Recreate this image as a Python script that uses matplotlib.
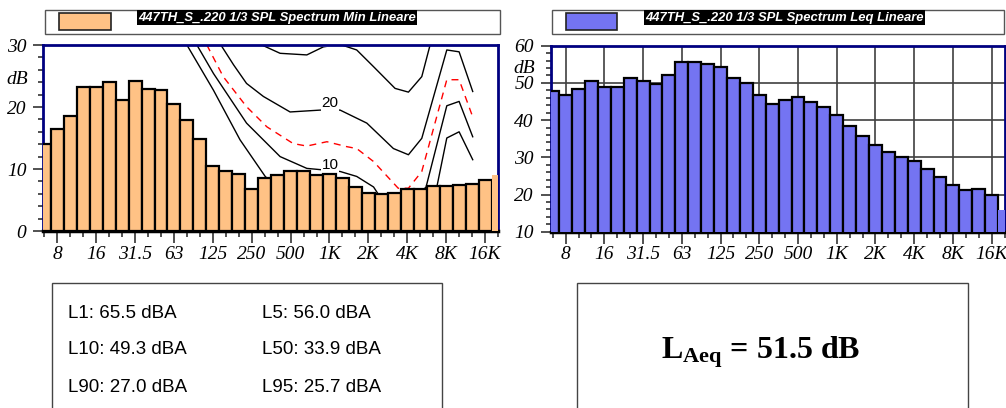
import numpy as np
import matplotlib.pyplot as plt
from matplotlib.patches import Rectangle
from matplotlib.ticker import MultipleLocator

# ========== 数据 ==========
bands = ["6.3", "8", "10", "12.5", "16", "20", "25", "31.5", "40", "50", "63", "80",
         "100", "125", "160", "200", "250", "315", "400", "500", "630", "800", "1K",
         "1.25K", "1.6K", "2K", "2.5K", "3.15K", "4K", "5K", "6.3K", "8K", "10K",
         "12.5K", "16K", "20K"]
tick_labels = ["8", "16", "31.5", "63", "125", "250", "500", "1K", "2K", "4K", "8K", "16K"]

spl_min = [14.1, 16.5, 18.5, 23.2, 23.2, 24.0, 21.1, 24.2, 22.9, 22.8, 20.5, 17.9,
           14.8, 10.5, 9.7, 9.2, 6.8, 8.6, 9.1, 9.7, 9.6, 9.0, 9.2, 8.5,
           7.1, 6.2, 6.0, 6.2, 6.7, 6.7, 7.3, 7.3, 7.5, 7.6, 8.2, 9.0]
spl_leq = [47.9, 46.7, 48.3, 50.4, 49.0, 48.8, 51.3, 50.5, 49.7, 52.0, 55.6, 55.7,
           55.0, 54.4, 51.2, 50.1, 46.7, 44.4, 45.5, 46.1, 45.0, 43.6, 41.5, 38.5,
           35.7, 33.4, 31.3, 30.1, 29.1, 26.8, 24.6, 22.6, 21.3, 21.5, 19.9, 15.8]

# 参考曲线 (位置: 1/3 倍频程序号, 6.3 Hz = 0)
curve5_band = [11.0, 13.05, 15.1, 17.04, 19.0, 23.0, 27.0, 29.6, 30.28, 31.05, 32.0, 33.05]
curve5_db = [30.0, 22.7, 14.7, 8.8, 5.0, 4.0, 3.0, 4.0, 7.1, 15.0, 16.0, 11.5]
curve10_band = [11.77, 13.05, 15.6, 18.19, 20.25, 22.82, 24.1, 25.4, 25.9, 28.5, 29.45, 31.05, 32.0, 33.05]
curve10_db = [30.0, 25.4, 17.4, 12.0, 10.1, 9.6, 8.8, 7.1, 5.5, 5.0, 7.1, 20.2, 20.9, 15.2]
curve15_band = [12.54, 13.8, 15.6, 17.17, 19.2, 20.25, 21.8, 23.34, 24.1, 25.4, 27.3, 28.09, 29.12, 31.05, 32.0, 33.05]
curve15_db = [30.0, 24.9, 20.05, 16.8, 14.1, 13.7, 14.4, 13.6, 13.3, 11.2, 6.9, 6.9, 9.6, 24.4, 24.4, 18.4]
curve20_band = [13.62, 14.6, 15.6, 16.9, 18.96, 21.28, 22.82, 24.88, 26.93, 28.09, 29.12, 31.05, 32.0, 33.05]
curve20_db = [30.0, 26.8, 23.8, 21.7, 19.2, 19.5, 19.5, 17.4, 13.3, 12.3, 14.95, 29.2, 28.9, 22.5]
curve30_band = [16.78, 18.19, 20.25, 21.53, 22.8, 24.1, 25.4, 27.06, 28.09, 29.12, 29.76, 30.2]
curve30_db = [30.0, 28.66, 28.4, 29.7, 30.1, 29.2, 26.5, 23.0, 22.4, 24.9, 30.0, 35.0]
curve_labels = ["10", "20", "30"]
curve_label_db = [10.6, 20.6, 31.0]
curve_label_band = 22.05

stats_left = ["L1: 65.5 dBA", "L10: 49.3 dBA", "L90: 27.0 dBA"]
stats_right = ["L5: 56.0 dBA", "L50: 33.9 dBA", "L95: 25.7 dBA"]
laeq = 51.5

# ========== 画布 ==========
W, H = 1006, 408
fig = plt.figure(figsize=(W / 100, H / 100), dpi=100)
plt.rcParams['mathtext.fontset'] = 'custom'
plt.rcParams['mathtext.bf'] = 'Liberation Serif:bold'
plt.rcParams['mathtext.rm'] = 'Liberation Serif'


def px_box(x0, y0, x1, y1):
    return [x0 / W, 1 - y1 / H, (x1 - x0) / W, (y1 - y0) / H]


ax1 = fig.add_axes(px_box(43.3, 45, 498, 231))
ax2 = fig.add_axes(px_box(550.7, 45.7, 1004.5, 231.7))

x = np.arange(len(bands))
major_pos = [bands.index(t) for t in tick_labels]
serif_it = dict(family='Liberation Serif', style='italic', size=14)


def style_axes(ax, xlim, ylim, db_at):
    ax.set_xlim(*xlim)
    ax.set_ylim(*ylim)
    for s in ['top', 'right', 'left']:
        ax.spines[s].set_color('#000080')
        ax.spines[s].set_linewidth(2)
    ax.spines['bottom'].set_color('black')
    ax.spines['bottom'].set_linewidth(2.5)
    ax.set_xticks(major_pos)
    ax.set_xticklabels(tick_labels)
    ax.set_xticks(x, minor=True)
    ax.yaxis.set_major_locator(MultipleLocator(10))
    ax.yaxis.set_minor_locator(MultipleLocator(2))
    ax.tick_params(axis='x', which='major', length=8.6, width=1.2, color='#333333', pad=2)
    ax.tick_params(axis='x', which='minor', length=4.3, width=1.2, color='#333333')
    ax.tick_params(axis='y', which='major', length=7.2, width=1.2, color='#333333', pad=5)
    ax.tick_params(axis='y', which='minor', length=3.6, width=1.2, color='#333333')
    for lab in ax.get_xticklabels() + ax.get_yticklabels():
        lab.set_fontproperties(serif_it)
    ax.annotate('dB', xy=(0, db_at), xycoords=('axes fraction', 'data'),
                xytext=(-11, 0), textcoords='offset points', ha='right', va='center',
                annotation_clip=False, **serif_it)


# ========== 左图: Min ==========
edges = ['black'] * (len(bands) - 1) + ['none']
ax1.bar(x, spl_min, width=1.0, color='#FFC285', edgecolor=edges, linewidth=1.6, zorder=3)
for bx, by in [(curve5_band, curve5_db), (curve10_band, curve10_db),
               (curve20_band, curve20_db), (curve30_band, curve30_db)]:
    ax1.plot(bx, by, color='black', lw=1, zorder=2)
ax1.plot(curve15_band, curve15_db, color='#FF0000', lw=1, dashes=(5, 4), zorder=2)
for lab, yv in zip(curve_labels, curve_label_db):
    ax1.text(curve_label_band, yv, lab, family='Liberation Sans', size=11, ha='center',
             va='center', zorder=2.5, clip_on=True,
             bbox=dict(boxstyle='square,pad=0.05', fc='white', ec='none'))
style_axes(ax1, (-0.08, 35.0), (0, 30), 24.5)

# ========== 右图: Leq ==========
ax2.bar(x, spl_leq, width=1.0, color='#7474F2', edgecolor=edges, linewidth=1.6, zorder=3)
ax2.grid(which='major', color='#404040', lw=1.2)
ax2.set_axisbelow(True)
style_axes(ax2, (-0.16, 34.84), (10, 60), 54)


# ========== 图例 ==========
def header(x0, x1, sw0, sw1, color, tx, text):
    fig.add_artist(Rectangle((x0 / W, 1 - 33.7 / H), (x1 - x0) / W, 23.7 / H,
                             transform=fig.transFigure, fc='white', ec='#555555', lw=1))
    fig.add_artist(Rectangle((sw0 / W, 1 - 30 / H), (sw1 - sw0) / W, 17.5 / H,
                             transform=fig.transFigure, fc=color, ec='#222222', lw=1.2))
    fig.text(tx / W, 1 - 17.5 / H, text, color='white', weight='bold', style='italic',
             size=9.4, family='Liberation Sans', va='center',
             bbox=dict(boxstyle='square,pad=0.1', fc='black', ec='none'))


header(45, 500, 58.7, 110.7, '#FFC285', 138, "447TH_S_.220 1/3 SPL Spectrum Min Lineare")
header(552.3, 1004, 565.7, 616.7, '#7474F2', 645, "447TH_S_.220 1/3 SPL Spectrum Leq Lineare")

# ========== 统计框 ==========
fig.add_artist(Rectangle((51.7 / W, -0.05), (442 - 51.7) / W, 1.05 - 282.7 / H,
                         transform=fig.transFigure, fc='white', ec='#444444', lw=1))
fig.add_artist(Rectangle((577 / W, -0.05), (968 - 577) / W, 1.05 - 282.7 / H,
                         transform=fig.transFigure, fc='white', ec='#444444', lw=1))
for i, (a, b) in enumerate(zip(stats_left, stats_right)):
    yy = 1 - (313 + 37 * i) / H
    fig.text(68 / W, yy, a, family='Liberation Sans', size=13.5, va='center')
    fig.text(262 / W, yy, b, family='Liberation Sans', size=13.5, va='center')
fig.text(761 / W, 1 - 358 / H, r'$\mathbf{L_{Aeq}}$' + f' = {laeq:.1f} dB',
         family='Liberation Serif', weight='bold', size=23, ha='center', va='baseline')

plt.savefig('out.png', dpi=100)
